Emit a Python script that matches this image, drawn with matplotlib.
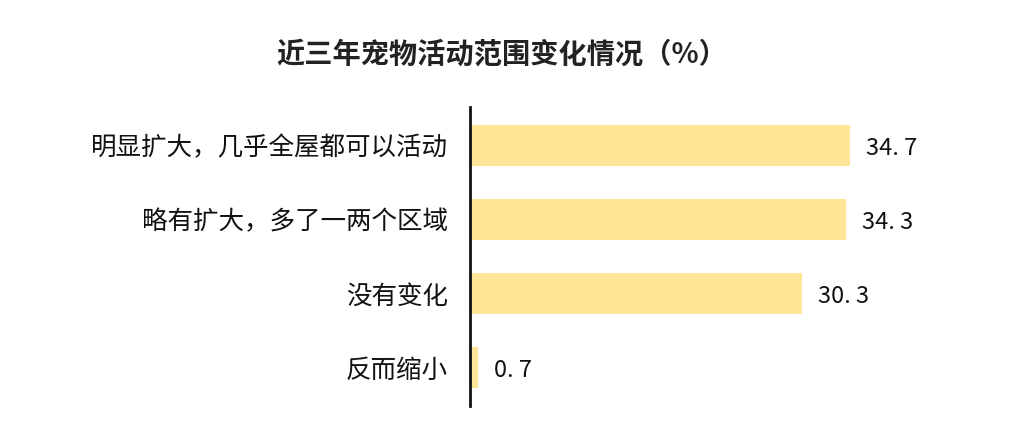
import matplotlib
matplotlib.use("Agg")
import matplotlib.pyplot as plt

plt.rcParams['font.family'] = ['Noto Sans CJK SC', 'DejaVu Sans']

categories = ["明显扩大，几乎全屋都可以活动", "略有扩大，多了一两个区域", "没有变化", "反而缩小"]
values = [34.7, 34.3, 30.3, 0.7]
labels = ["34. 7", "34. 3", "30. 3", "0. 7"]
title = "近三年宠物活动范围变化情况（%）"

W, H = 1014, 440
fig = plt.figure(figsize=(W / 100, H / 100), dpi=100)
left, right = 470, 908
top, bottom = 107, 406
ax = fig.add_axes([left / W, 1 - bottom / H, (right - left) / W, (bottom - top) / H])

y = list(range(len(categories)))
ax.barh(y, values, height=0.55, color='#FFE596')
ax.set_ylim(3.52, -0.52)
ax.set_xlim(0, 40)
ax.set_yticks(y)
ax.set_yticklabels(categories, fontsize=18.4, color='#111111')
ax.tick_params(axis='y', length=0, pad=16)
ax.set_xticks([])
for s in ['top', 'right', 'bottom']:
    ax.spines[s].set_visible(False)
ax.spines['left'].set_linewidth(2)
ax.spines['left'].set_color('#111111')

for yi, v, lab in zip(y, values, labels):
    ax.annotate(lab, (v, yi), xytext=(16, -3), textcoords='offset pixels',
                va='center', ha='left', fontsize=17, color='#111111')

fig.text(502 / W, 1 - 55 / H, title, ha='center', va='center', fontsize=20.3,
         fontweight='bold', color='#222222')

fig.savefig("out.png", dpi=100)
